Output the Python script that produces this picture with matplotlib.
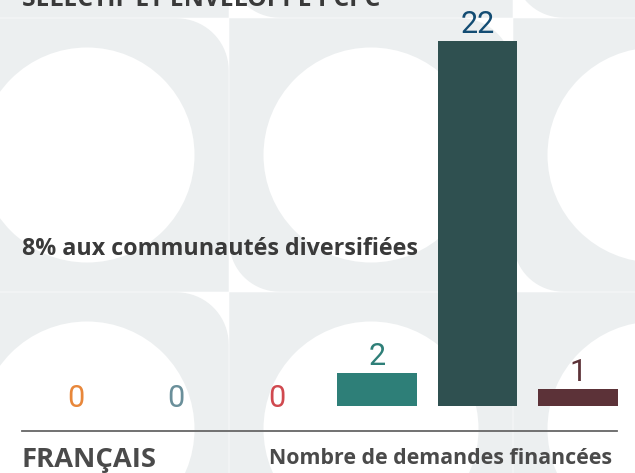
import numpy as np
import matplotlib
matplotlib.use("Agg")
import matplotlib.pyplot as plt
from matplotlib.patches import Polygon, Circle
from matplotlib.lines import Line2D

# ---- data ----
categories = ["Cat A", "Cat B", "Cat C", "Cat D", "Cat E", "Cat F"]
values = [0, 0, 0, 2, 22, 1]
bar_colors = ["#E8873A", "#6A8F9A", "#D0494F", "#2E7F78", "#2F5050", "#5C3238"]
label_colors = ["#E8873A", "#6A8F9A", "#D0494F", "#2E7F78", "#134C73", "#5C3238"]
title_text = "SÉLECTIF ET ENVELOPPE PCPC"
subtitle_text = "8% aux communautés diversifiées"
language_text = "FRANÇAIS"
measure_text = "Nombre de demandes financées"

W, H = 635, 473
fig = plt.figure(figsize=(W / 100, H / 100), dpi=100)
fig.patch.set_facecolor("white")

# ---- decorative background ----
bg = fig.add_axes([0, 0, 1, 1])
bg.set_xlim(0, W)
bg.set_ylim(H, 0)
bg.axis("off")
GRAY = "#ECEFF0"
TW, TH = 284, 274
R_TR, R_BL = 52, 50


def tile_poly(x0, y0, w, h):
    x1, y1 = x0 + w, y0 + h
    pts = [(x0, y0), (x1 - R_TR, y0)]
    t = np.linspace(-np.pi / 2, 0, 20)
    cx, cy = x1 - R_TR, y0 + R_TR
    pts += list(zip(cx + R_TR * np.cos(t), cy + R_TR * np.sin(t)))
    pts += [(x1, y1), (x0 + R_BL, y1)]
    t = np.linspace(np.pi / 2, np.pi, 20)
    cx, cy = x0 + R_BL, y1 - R_BL
    pts += list(zip(cx + R_BL * np.cos(t), cy + R_BL * np.sin(t)))
    return pts


for r in (-1, 0, 1):
    top = 18 + TH * r
    for c in (-1, 0, 1):
        left = 229 + TW * c
        bg.add_patch(Polygon(tile_poly(left + 0.3, top + 0.3, TW - 0.6, TH - 0.6),
                             closed=True, facecolor=GRAY, edgecolor="none"))
        bg.add_patch(Circle((left + TW / 2, top + 137), 107.5,
                            facecolor="white", edgecolor="none"))

# ---- bars ----
ax = fig.add_axes([25.25 / W, (H - 406) / H, 603 / W, 365 / H])
ax.patch.set_alpha(0)
x = np.arange(len(categories))
ax.bar(x, values, width=0.795, color=bar_colors)
ax.set_xlim(-0.5, len(categories) - 0.5)
ax.set_ylim(0, 22)
ax.axis("off")
for xi, v, col in zip(x, values, label_colors):
    off = 8 if v > 0 else -1
    ax.annotate(str(v), (xi, v), xytext=(0, off), textcoords="offset pixels",
                ha="center", va="baseline", fontsize=22, color=col,
                family="Roboto", fontweight="normal", annotation_clip=False)

# ---- texts ----
renderer = fig.canvas.get_renderer()


def fitted_text(xpx, ypx, s, width_px, size, ha="left", **kw):
    t = fig.text(xpx / W, 1 - ypx / H, s, fontsize=size, va="baseline", ha=ha, **kw)
    for _ in range(3):
        bb = t.get_window_extent(renderer)
        t.set_fontsize(t.get_fontsize() * width_px / bb.width)
    return t


fitted_text(22, 6, title_text, 358, 17, fontweight="bold",
            color="#3A3A3A", family="Open Sans")
fitted_text(22, 255, subtitle_text, 395, 14, fontweight="bold",
            color="#3A3A3A", family="Open Sans")
fitted_text(22, 467, language_text, 135, 18, fontweight="bold",
            color="#4A4A4A", family="Open Sans")
fitted_text(612, 464, measure_text, 344, 14, ha="right", fontweight="bold",
            color="#4A4A4A", family="Open Sans")

fig.add_artist(Line2D([22 / W, 617 / W], [1 - 431 / H, 1 - 431 / H],
                      transform=fig.transFigure, color="#666666", linewidth=1.3))

fig.savefig("out.png", dpi=100)
